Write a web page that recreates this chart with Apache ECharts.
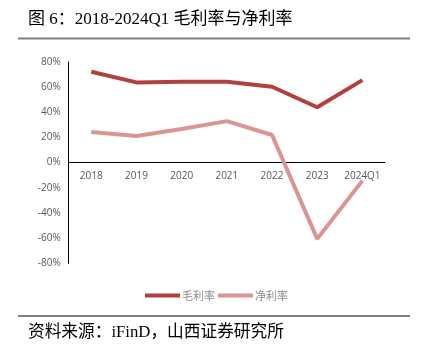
<!DOCTYPE html>
<html>
<head>
    <meta charset="UTF-8">
    <title></title>
    <script src="https://cdn.jsdelivr.net/npm/echarts@6/dist/echarts.min.js"></script>
    <style>
        * { padding: 0; margin: 0; }
        body { background: #fff; }
        #container { width: 421px; height: 352px; }
    </style>
</head>
<body>
    <div id="container"></div>
<script>
    var categories = ['2018', '2019', '2020', '2021', '2022', '2023', '2024Q1'];
    var grossMargin = [72.2, 63.8, 64.3, 64.3, 60.3, 44.0, 65.6];   // 毛利率
    var netMargin = [24.4, 21.2, 26.7, 33.0, 22.0, -60.6, -14.3];    // 净利率
    var yTicks = [-80, -60, -40, -20, 0, 20, 40, 60, 80];

    var cjk = '"Liberation Serif", "Noto Sans CJK SC", serif';
    var labelFont = '"Open Sans", "Liberation Sans", sans-serif';
    var gridTop = 62, gridBottom = 88.7;
    var gridH = 352 - gridTop - gridBottom;
    var myCharts = echarts.init(document.getElementById('container'));

    var option = {
        animation: false,
        graphic: [
            {   // 标题
                type: 'text', left: 28, top: 11,
                style: { text: '图 6：2018-2024Q1 毛利率与净利率', font: '17px ' + cjk, fill: '#000' }
            },
            {
                type: 'line', shape: { x1: 18, y1: 38.5, x2: 410, y2: 38.5 },
                style: { stroke: '#7f7f7f', lineWidth: 2 }
            },
            {
                type: 'line', shape: { x1: 18, y1: 316, x2: 410, y2: 316 },
                style: { stroke: '#000', lineWidth: 1 }
            },
            {   // 来源
                type: 'text', left: 28, top: 324,
                style: { text: '资料来源：iFinD，山西证券研究所', font: '16.7px ' + cjk, fill: '#000' }
            }
        ],
        legend: {
            left: 140, top: 285,
            itemWidth: 35, itemHeight: 4, itemGap: 3,
            icon: 'rect',
            textStyle: { color: '#8c8c8c', fontSize: 11, fontFamily: '"Noto Sans CJK SC"', padding: [0, 0, 0, -3] },
            data: ['毛利率', '净利率']
        },
        grid: { left: 68.7, right: 36, top: gridTop, bottom: gridBottom },
        xAxis: {
            type: 'category',
            data: categories,
            boundaryGap: true,
            offset: -gridH / 2,   // 轴线放在0%处
            axisLine: { onZero: false, lineStyle: { color: '#000', width: 1 } },
            axisTick: { show: false },
            axisLabel: { interval: 0, color: '#595959', fontSize: 10, margin: 9, fontFamily: labelFont }
        },
        yAxis: {
            type: 'value',
            min: yTicks[0], max: yTicks[yTicks.length - 1], interval: 20,
            axisLine: { show: true, lineStyle: { color: '#000', width: 1 } },
            axisTick: { show: false },
            splitLine: { show: false },
            axisLabel: { color: '#595959', fontSize: 10, margin: 8, formatter: '{value}%', fontFamily: labelFont }
        },
        series: [
            {
                name: '毛利率', type: 'line', data: grossMargin,
                symbol: 'none', lineStyle: { color: '#b2403f', width: 4 }, itemStyle: { color: '#b2403f' }
            },
            {
                name: '净利率', type: 'line', data: netMargin,
                symbol: 'none', lineStyle: { color: '#d99493', width: 4 }, itemStyle: { color: '#d99493' }
            }
        ]
    };

    myCharts.setOption(option);
</script>
</body>
</html>
